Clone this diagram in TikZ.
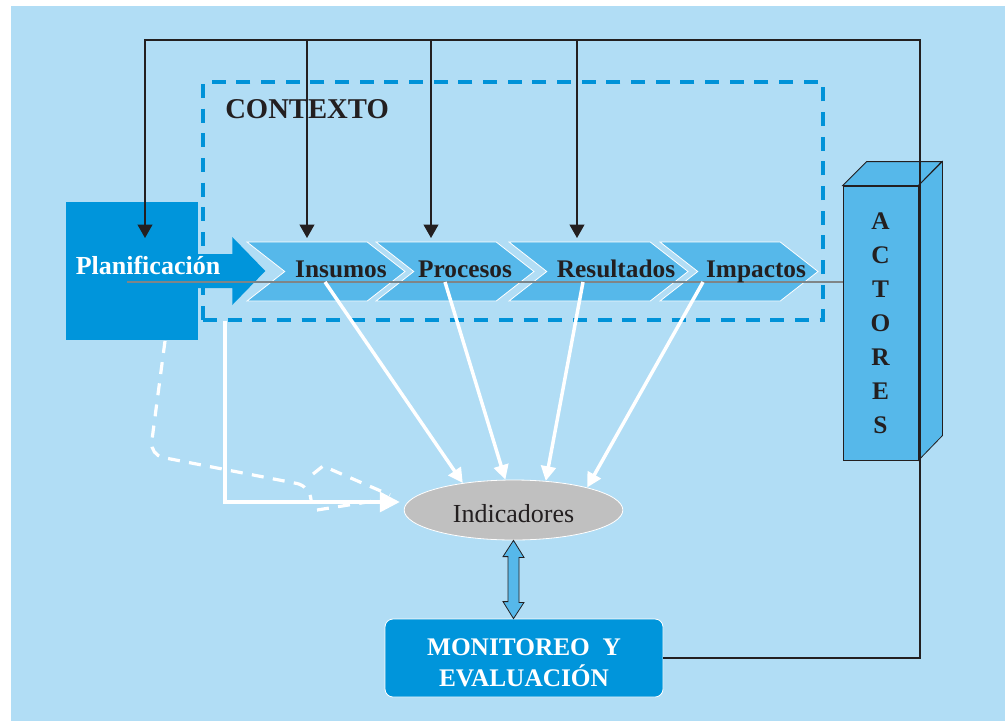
\documentclass[tikz,border=0pt]{standalone}
\usepackage{fontspec}
\setmainfont{Liberation Serif}
\usetikzlibrary{arrows.meta,shapes.geometric,shapes.symbols}

\definecolor{bgblue}{HTML}{B1DDF5}
\definecolor{planblue}{HTML}{0095DB}
\definecolor{stageblue}{HTML}{56B8EA}
\definecolor{ctxblue}{HTML}{0092D8}
\definecolor{inkblack}{HTML}{231F20}
\definecolor{indgray}{HTML}{C0C0C0}
\definecolor{axisgray}{HTML}{7F8587}

\tikzset{
  stage/.style={signal, signal from=west, signal to=east, signal pointer angle=76,
    fill=stageblue, draw=white, line width=0.6pt, minimum height=44.25pt, inner sep=0pt},
  stagetext/.style={anchor=base, inner sep=0pt, text=inkblack,
    font=\fontsize{19}{22}\selectfont\bfseries},
  feed/.style={draw=inkblack, line width=1.3pt, -{Triangle[length=10pt,width=11pt]}},
  flow/.style={draw=white, line width=2.6pt, -{Triangle[length=11pt,width=11pt]}},
  dashflow/.style={draw=white, line width=2.4pt, dash pattern=on 9pt off 7pt},
}

\begin{document}
\begin{tikzpicture}[x=0.75pt, y=-0.75pt]

% canvas
\useasboundingbox (0,0) rectangle (1005,721);
\fill[bgblue] (11,6) rectangle (1005,721);

% context frame
\node[draw=ctxblue, line width=2.6pt, dash pattern=on 10.5pt off 8pt,
      minimum width=465pt, minimum height=178.5pt, inner sep=0pt] (ctx) at (513,201) {};
\node[anchor=base west, inner sep=0pt, text=inkblack,
      font=\fontsize{21.5}{24}\selectfont\bfseries] (ctxT) at (225,118) {CONTEXTO};

% planning block and its arrow
\node[fill=planblue, minimum width=99pt, minimum height=103.5pt, inner sep=0pt] (plan) at (132,271) {};
\fill[planblue] (plan.east) ++(-2,-17) -- ++(36,0) -- ++(0,-17) -- ++(33,34)
      -- ++(-33,34) -- ++(0,-17) -- ++(-36,0) -- cycle;

% chain of stages
\node[stage, minimum width=118.5pt]  (ins) at (326,271.5) {};
\node[stage, minimum width=118.5pt]  (pro) at (455,271.5) {};
\node[stage, minimum width=134.25pt] (res) at (598.5,271.5) {};
\node[stage, minimum width=118.5pt]  (imp) at (739,271.5) {};

% actors column
\node[draw=inkblack, fill=stageblue, line width=0.6pt, minimum width=56.25pt,
      minimum height=205.5pt, inner sep=0pt, align=center, text=inkblack,
      font=\fontsize{19}{25.5}\selectfont\bfseries] (act) at (880.5,323) {A\\C\\T\\O\\R\\E\\S};
\filldraw[fill=stageblue, draw=inkblack, line width=0.6pt]
      (act.north west) -- ++(24,-24) -- ++(75,0) -- (act.north east) -- cycle;
\filldraw[fill=stageblue, draw=inkblack, line width=0.6pt]
      (act.north east) -- ++(24,-24) -- ++(0,274) -- (act.south east) -- cycle;

% axis through the chain
\coordinate (gIn) at (127,282);
\draw[axisgray, line width=1.2pt] (gIn) -- (gIn -| act.west);

% labels
\node[stagetext, text=white, font=\fontsize{19.5}{22}\selectfont\bfseries] (planT) at (148,274) {Planificación};
\node[stagetext] (insT) at (341,277) {Insumos};
\node[stagetext] (proT) at (465,277) {Procesos};
\node[stagetext] (resT) at (616,277) {Resultados};
\node[stagetext] (impT) at (756,277) {Impactos};

% indicators and monitoring
\node[ellipse, fill=indgray, draw=white, line width=0.6pt, minimum width=164pt,
      minimum height=45pt, inner sep=0pt, text=inkblack,
      font=\fontsize{19.5}{22}\selectfont] (ind) at (513.5,510) {\rule{0pt}{19.5pt}Indicadores};
\node[rounded corners=6pt, fill=planblue, draw=white, line width=0.6pt,
      minimum width=208.5pt, minimum height=58.5pt, align=center, text=white,
      font=\fontsize{19}{23}\selectfont\bfseries] (mon) at (524,658)
      {\rule{0pt}{20pt}MONITOREO\ \ Y\\EVALUACIÓN};
\filldraw[fill=stageblue, draw=inkblack, line width=0.6pt]
      (ind.south) -- ++(10.5,17) -- ++(-5,0) -- ++(0,45) -- ++(5,0) -- (mon.north -| ind.south)
      -- ++(-10.5,-17) -- ++(5,0) -- ++(0,-45) -- ++(-5,0) -- cycle;

% stages feed the indicators
\foreach \n/\x in {ins/325,pro/445,res/583,imp/703}
    \coordinate (\n-out) at (\x,282);
\foreach \n/\a in {ins/152,pro/105,res/42,imp/17}
    \draw[flow] (\n-out) -- (ind.\a);

% context feeds the indicators
\coordinate (ctxOut) at (225,321);
\draw[draw=white, line width=2.6pt, -{Triangle[length=15pt,width=15pt]}]
      (ctxOut) |- ([shift={(-4,-8)}]ind.west);

% planning feeds the indicators (dashed)
\coordinate (dOut) at (165,341);
\draw[dashflow] (dOut) [rounded corners=10pt]-- (150,455) -- (310,486) [sharp corners]-- (311,500);
\draw[dashflow] (313,474) -- (323,466) -- (390,495);
\draw[dashflow] (317,510) -- (380,500);

% actors feed back through the frame
\coordinate (rail)   at (920,40);
\coordinate (planIn) at (145,238);
\coordinate (inIns)  at (307,238);
\coordinate (inPro)  at (431,238);
\coordinate (inRes)  at (577,238);
\draw[feed] (mon.east) -| (rail) -| (planIn);
\foreach \c in {inIns,inPro,inRes}
    \draw[feed] (\c |- rail) -- (\c);

\end{tikzpicture}
\end{document}
